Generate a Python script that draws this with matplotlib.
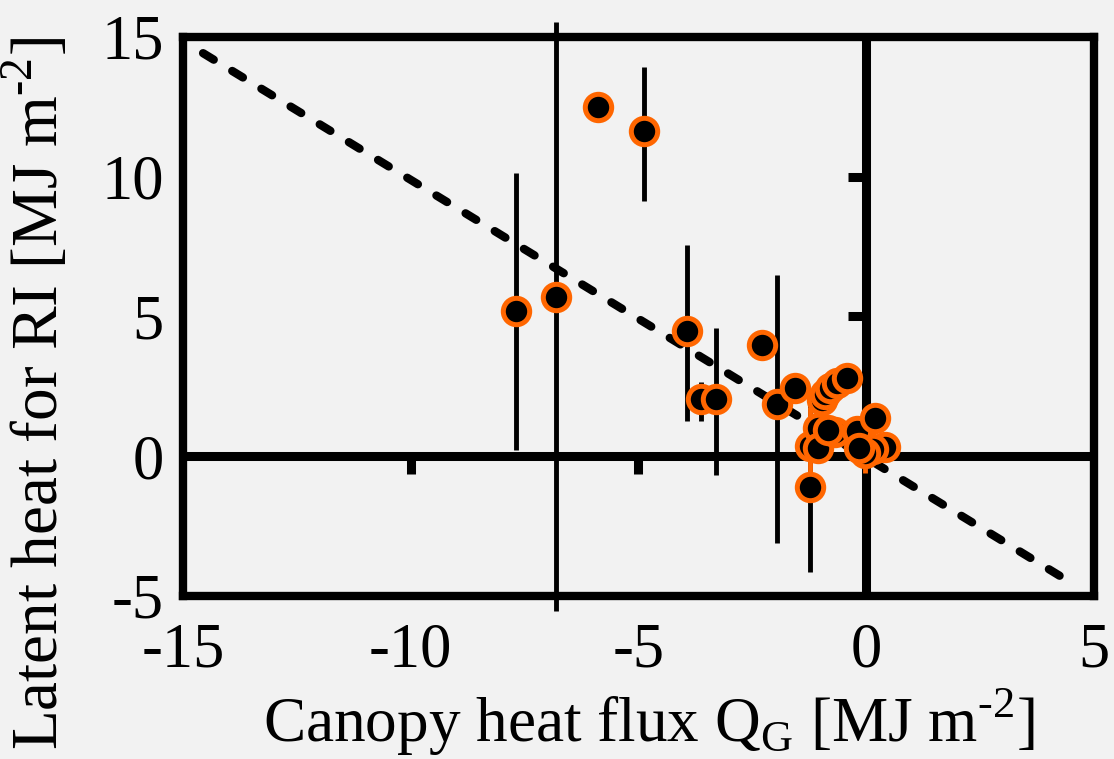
"""
Latent heat for RI vs canopy heat flux Q_G, with error bars and a dashed fit line.
"""
import matplotlib

matplotlib.use("Agg")
import matplotlib.pyplot as plt
from matplotlib.markers import TICKDOWN, TICKLEFT

# data
qg = [-5.88, -4.87, -7.68, -6.81, -3.93, -3.62, -3.29, -2.28, -1.96, -1.56,
      -1.23, -1.23, -1.05, -1.05, -0.97, -0.90, -0.79, -0.64, -0.42, -0.68,
      -0.85, -0.20, 0.20, 0.42, 0.15, -0.02, -0.15]
latent = [12.49, 11.63, 5.19, 5.69, 4.47, 2.04, 2.04, 3.97, 1.86, 2.43,
          -1.09, 0.35, 1.00, 0.30, 2.02, 2.22, 2.43, 2.61, 2.79, 0.85,
          0.95, 0.90, 1.38, 0.32, 0.25, 0.10, 0.30]
err_lo = [0, 2.51, 4.98, 11.24, 3.22, 0.79, 2.72, 0, 4.97, 0,
          3.06, 0, 0, 0, 0, 0, 0, 0, 0, 0,
          0, 0, 0, 0, 0, 0, 0]
err_hi = [0, 2.29, 4.93, 9.84, 3.08, 0.61, 2.54, 0, 4.62, 0,
          3.06, 0, 0, 0, 0, 0, 0, 0, 0, 0,
          0, 0, 0, 0, 0, 0, 0]
err_small = [0, 0, 0, 0, 0, 0, 0, 0, 0, 0,
             0, 1.40, 0, 0, 0, 0, 0, 0, 0, 0,
             0, 0, 0, 0, 0, 0.70, 0]

fit_x = [-14.56, 4.30]
fit_y = [14.42, -4.33]

xticks = [-15, -10, -5, 0, 5]
yticks = [-5, 0, 5, 10, 15]

ORANGE = "#ff6600"
BG = "#f2f2f2"

plt.rcParams["font.family"] = ["Liberation Serif", "DejaVu Serif"]
plt.rcParams["mathtext.fontset"] = "custom"
plt.rcParams["mathtext.rm"] = "Liberation Serif"
plt.rcParams["axes.unicode_minus"] = False

fig = plt.figure(figsize=(11.14, 7.59), dpi=100, facecolor=BG)
ax = fig.add_axes([0.1643, 0.2148, 0.8177, 0.7365], facecolor=BG)

ax.set_xlim(-15, 5)
ax.set_ylim(-5, 15)

# axes crossing at zero
ax.axhline(0, color="black", lw=6.5, zorder=2)
ax.axvline(0, color="black", lw=6.5, zorder=2)
ax.plot([-10, -5], [0, 0], ls="none", marker=TICKDOWN, ms=13, mew=6.5,
        color="black", zorder=2)
ax.plot([0, 0], [5, 10], ls="none", marker=TICKLEFT, ms=13, mew=6.5,
        color="black", zorder=2)

ax.plot(fit_x, fit_y, color="black", lw=6, dashes=(1.5, 2.6),
        dash_capstyle="round", zorder=3)

ax.errorbar(qg, latent, yerr=[err_lo, err_hi], fmt="none", ecolor="black",
            elinewidth=3.5, capsize=0, zorder=3, clip_on=False)
ax.errorbar(qg, latent, yerr=err_small, fmt="none", ecolor=ORANGE,
            elinewidth=3.5, capsize=0, zorder=4)
ax.plot(qg, latent, ls="none", marker="o", ms=19, mfc="black", mec=ORANGE,
        mew=3.6, zorder=5, clip_on=False)

for s in ax.spines.values():
    s.set_linewidth(6)
    s.set_color("black")
    s.set_zorder(6)

ax.set_xticks(xticks)
ax.set_yticks(yticks)
ax.tick_params(length=0, labelsize=45)
ax.tick_params(axis="x", pad=19)
ax.tick_params(axis="y", pad=14)

ax.set_xlabel("Canopy heat flux Q$_\\mathregular{G}$ [MJ m$^{\\text{-2}}$]",
              fontsize=45.5)
ax.xaxis.set_label_coords(0.511, -0.163)
ax.set_ylabel("Latent heat for RI [MJ m$^{\\text{-2}}$]", fontsize=47)
ax.yaxis.set_label_coords(-0.122, 0.362)

fig.savefig("out.png", dpi=100, facecolor=BG)
plt.close(fig)
